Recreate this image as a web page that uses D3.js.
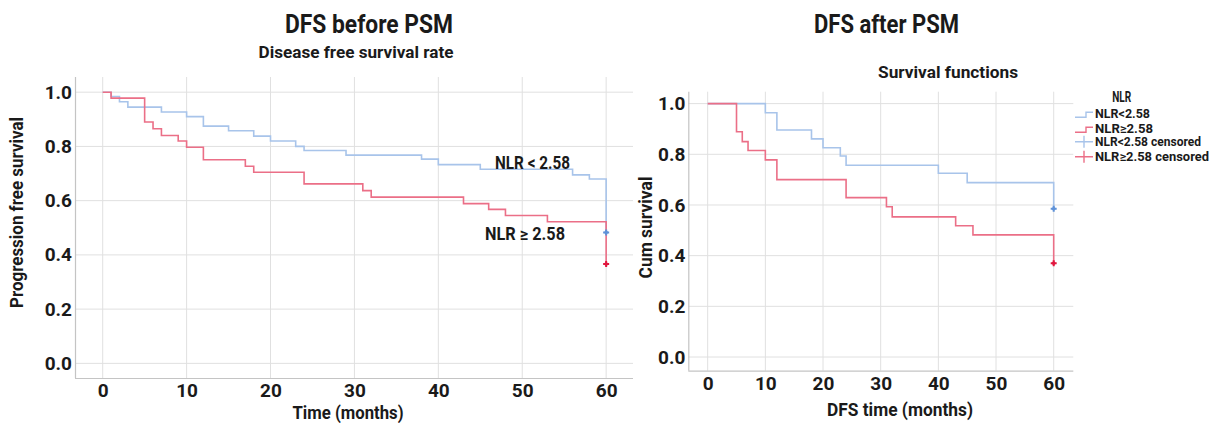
<!DOCTYPE html>
<html><head><meta charset="utf-8">
<script src="https://cdn.jsdelivr.net/npm/d3@7"></script>
<style>
html,body{margin:0;padding:0;background:#fff;}
svg{display:block;}
text{font-family:Roboto,"Liberation Sans",sans-serif;font-weight:700;fill:#1a1a1a;}
</style></head>
<body>
<svg id="c" width="1218" height="423"></svg>
<script>
// ---- data ----
const xTicks = [0, 10, 20, 30, 40, 50, 60];
const yTicks = [0.0, 0.2, 0.4, 0.6, 0.8, 1.0];

const beforeLowT = [0, 1, 2, 3, 7, 10, 12, 15, 18, 20, 23, 24, 29, 38, 40, 45, 56, 58, 60];
const beforeLowS = [1.0, 0.984, 0.965, 0.945, 0.927, 0.91, 0.875, 0.858, 0.838, 0.82, 0.80, 0.785, 0.768, 0.753, 0.733, 0.716, 0.695, 0.68, 0.483];
const beforeHighT = [0, 1, 5, 6, 7, 9, 10, 12, 17, 18, 24, 31, 32, 43, 46, 48, 53, 60];
const beforeHighS = [1.0, 0.978, 0.89, 0.865, 0.84, 0.82, 0.797, 0.751, 0.727, 0.705, 0.662, 0.637, 0.613, 0.589, 0.568, 0.545, 0.522, 0.366];
const beforeCensorT = [60, 60];
const beforeCensorS = [0.483, 0.366];

const afterLowT = [0, 10, 12, 18, 20, 23, 24, 40, 45, 60];
const afterLowS = [1.0, 0.964, 0.896, 0.861, 0.826, 0.793, 0.757, 0.725, 0.688, 0.585];
const afterHighT = [0, 5, 6, 7, 10, 12, 24, 31, 32, 43, 46, 60];
const afterHighS = [1.0, 0.889, 0.85, 0.815, 0.778, 0.70, 0.629, 0.593, 0.553, 0.518, 0.482, 0.37];
const afterCensorT = [60, 60];
const afterCensorS = [0.585, 0.37];

const legendLabels = ["NLR<2.58", "NLR\u22652.58", "NLR<2.58 censored", "NLR\u22652.58 censored"];

// ---- style ----
const BLUE = "#a8c4ea", RED = "#eb6f87", BLUE_D = "#5f92d8", RED_D = "#e1173f";
const GRID = "#e0e0e0", AXIS = "#c4c4c4";

const svg = d3.select("#c");
svg.append("rect").attr("width", 1218).attr("height", 423).attr("fill", "#fff");

function txt(g, s, x, y, size, opts = {}) {
  const t = g.append("text").attr("x", x).attr("y", y)
    .attr("font-size", size).attr("text-anchor", opts.anchor || "middle").text(s);
  if (opts.len) t.attr("textLength", opts.len).attr("lengthAdjust", "spacingAndGlyphs");
  if (opts.rotate) t.attr("transform", `rotate(-90,${x},${y})`);
  return t;
}

function panel(cfg) {
  const x = d3.scaleLinear().domain(cfg.xd).range([cfg.left, cfg.right]);
  const y = d3.scaleLinear().domain(cfg.yd).range([cfg.bottom, cfg.top]);
  const g = svg.append("g");
  // grid
  g.selectAll(".vg").data(xTicks).join("line")
    .attr("x1", d => x(d)).attr("x2", d => x(d))
    .attr("y1", cfg.top).attr("y2", cfg.bottom)
    .attr("stroke", GRID).attr("stroke-width", 1);
  g.selectAll(".hg").data(yTicks).join("line")
    .attr("x1", cfg.left).attr("x2", cfg.right)
    .attr("y1", d => y(d)).attr("y2", d => y(d))
    .attr("stroke", GRID).attr("stroke-width", 1);
  // axes
  const ax = g.append("g").attr("transform", `translate(0,${cfg.bottom})`)
    .call(d3.axisBottom(x).tickValues(xTicks).tickSize(0).tickPadding(cfg.xpad).tickFormat(d3.format("d")));
  const ay = g.append("g").attr("transform", `translate(${cfg.left},0)`)
    .call(d3.axisLeft(y).tickValues(yTicks).tickSize(0).tickPadding(3).tickFormat(d3.format(".1f")));
  [ax, ay].forEach(a => {
    a.select(".domain").attr("stroke", AXIS).attr("stroke-width", 1.2);
    a.selectAll("text").attr("font-size", cfg.tickSize).attr("fill", "#1a1a1a")
      .attr("font-family", "Roboto, sans-serif").attr("font-weight", 700);
  });
  ax.select(".domain").attr("d", `M${cfg.left},0.5H${cfg.right}`);
  ay.select(".domain").attr("d", `M0.5,${cfg.top}V${cfg.bottom}`);

  const line = d3.line().x(d => x(d[0])).y(d => y(d[1])).curve(d3.curveStepAfter);
  cfg.series.forEach(s => {
    g.append("path").datum(d3.zip(s.t, s.s)).attr("d", line)
      .attr("fill", "none").attr("stroke", s.color).attr("stroke-width", 1.6);
  });
  cfg.censor.t.forEach((t, i) => {
    const cx = x(t), cy = y(cfg.censor.s[i]);
    g.append("path").attr("d", `M${cx - 3},${cy}H${cx + 3}M${cx},${cy - 3}V${cy + 3}`)
      .attr("stroke", cfg.censor.colors[i]).attr("stroke-width", 2);
    g.append("circle").attr("cx", cx).attr("cy", cy).attr("r", 1.8).attr("fill", cfg.censor.colors[i]);
  });
  return {x, y, g};
}

// ---- left panel ----
const L = panel({
  xd: [-3.3, 63.2], yd: [-0.054, 1.056], left: 75, right: 633, top: 77, bottom: 378,
  xpad: 6, tickSize: 19,
  series: [{t: beforeLowT, s: beforeLowS, color: BLUE}, {t: beforeHighT, s: beforeHighS, color: RED}],
  censor: {t: beforeCensorT, s: beforeCensorS, colors: [BLUE_D, RED_D]}
});
txt(svg, "DFS before PSM", 369, 33, 26, {len: 168});
txt(svg, "Disease free survival rate", 356, 58, 16.5, {len: 195});
txt(svg, "Time (months)", 348, 419, 18, {len: 111});
txt(svg, "Progression free survival", 23, 212.5, 18, {len: 191, rotate: true});
txt(svg, "NLR < 2.58", 532.5, 169, 17.5, {len: 75});
txt(svg, "NLR \u2265 2.58", 525, 240, 17.5, {len: 80});

// ---- right panel ----
const R = panel({
  xd: [-3.36, 63.4], yd: [-0.054, 1.047], left: 688.3, right: 1073.3, top: 91.7, bottom: 370.7,
  xpad: 6, tickSize: 19,
  series: [{t: afterLowT, s: afterLowS, color: BLUE}, {t: afterHighT, s: afterHighS, color: RED}],
  censor: {t: afterCensorT, s: afterCensorS, colors: [BLUE_D, RED_D]}
});
txt(svg, "DFS after PSM", 886.5, 33, 26, {len: 145});
txt(svg, "Survival functions", 948, 78, 16.5, {len: 140});
txt(svg, "DFS time (months)", 900, 416, 18, {len: 146});
txt(svg, "Cum survival", 652, 227.5, 18, {len: 102, rotate: true});

// ---- legend ----
const lg = svg.append("g");
txt(lg, "NLR", 1121.7, 102, 15.5, {len: 19});
const rowY = [113.3, 128.3, 141.7, 156.7];
const rowC = [BLUE, RED, BLUE, RED];
legendLabels.forEach((lab, i) => {
  const yy = rowY[i];
  if (i < 2) {
    lg.append("path").attr("d", `M1075,${yy + 4}H1086V${yy - 1}H1093`)
      .attr("fill", "none").attr("stroke", rowC[i]).attr("stroke-width", 1.4);
  } else {
    lg.append("path").attr("d", `M1075,${yy}H1093M1084,${yy - 6}V${yy + 6}`)
      .attr("fill", "none").attr("stroke", rowC[i]).attr("stroke-width", 1.4);
  }
  const widths = [55, 58, 106, 114];
  txt(lg, lab, 1095, yy + 4.5, 13, {anchor: "start", len: widths[i]});
});
</script>
</body></html>
